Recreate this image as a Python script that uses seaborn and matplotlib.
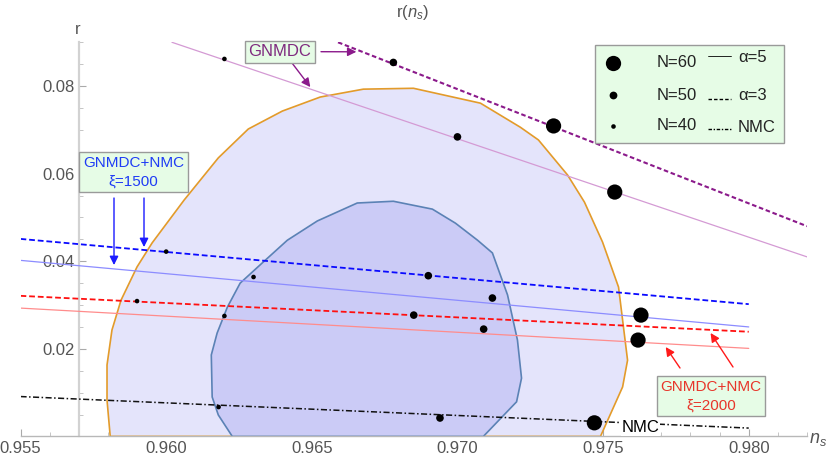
import matplotlib
matplotlib.use("Agg")
import matplotlib.pyplot as plt
import seaborn as sns
import pandas as pd
from matplotlib.patches import Rectangle
from matplotlib.lines import Line2D

# ---------------- data ----------------
# Planck-like confidence contours (outer / inner)
outer_ns = [0.95808, 0.95797, 0.95797, 0.95814, 0.95845, 0.95900, 0.95952, 0.96062,
            0.96179, 0.96282, 0.96399, 0.96529, 0.96677, 0.96849, 0.97079, 0.97216,
            0.97278, 0.97378, 0.97436, 0.97498, 0.97553, 0.97584, 0.97567, 0.97491]
outer_r = [0.0000, 0.0083, 0.0163, 0.0243, 0.0311, 0.0387, 0.0442, 0.0540,
           0.0636, 0.0702, 0.0743, 0.0775, 0.0793, 0.0795, 0.0761, 0.0706,
           0.0677, 0.0597, 0.0535, 0.0444, 0.0341, 0.0174, 0.0113, 0.0000]
inner_ns = [0.96227, 0.96179, 0.96158, 0.96155, 0.96175, 0.96210, 0.96254, 0.96333,
            0.96416, 0.96519, 0.96656, 0.96780, 0.96914, 0.96993, 0.97069, 0.97120,
            0.97172, 0.97206, 0.97220, 0.97203, 0.97089]
inner_r = [0.0000, 0.0049, 0.0090, 0.0186, 0.0236, 0.0295, 0.0350, 0.0398,
           0.0448, 0.0492, 0.0533, 0.0537, 0.0519, 0.0487, 0.0448, 0.0419,
           0.0323, 0.0220, 0.0133, 0.0079, 0.0000]

# model curves r(ns)
gnmdc_a5_ns = [0.9602, 0.9820]
gnmdc_a5_r = [0.0900, 0.0410]
gnmdc_a3_ns = [0.9659, 0.9820]
gnmdc_a3_r = [0.0900, 0.0480]
xi_ns = [0.955, 0.980]
xi1500_a3_r = [0.0451, 0.0302]
xi1500_a5_r = [0.0402, 0.0250]
xi2000_a3_r = [0.0321, 0.0239]
xi2000_a5_r = [0.0293, 0.0201]
nmc_r = [0.0091, 0.0019]

# e-fold points
pt_ns = [0.9620, 0.9600, 0.9630, 0.9590, 0.9620, 0.9618,
         0.9678, 0.9700, 0.9690, 0.9712, 0.9685, 0.9709, 0.9694,
         0.9733, 0.9754, 0.9763, 0.9762, 0.9747]
pt_r = [0.0862, 0.0422, 0.0364, 0.0309, 0.0275, 0.0067,
        0.0854, 0.0684, 0.0367, 0.0316, 0.0277, 0.0245, 0.0042,
        0.0709, 0.0558, 0.0277, 0.0220, 0.0031]
pt_N = [40, 40, 40, 40, 40, 40,
        50, 50, 50, 50, 50, 50, 50,
        60, 60, 60, 60, 60]

x_ticks = [0.955, 0.960, 0.965, 0.970, 0.975, 0.980]
x_tick_labels = ["0.955", "0.960", "0.965", "0.970", "0.975", "0.980"]
y_ticks = [0.02, 0.04, 0.06, 0.08]
y_tick_labels = ["0.02", "0.04", "0.06", "0.08"]

# ---------------- style ----------------
sns.set_theme(style="white")
plt.rcParams["font.family"] = ["Liberation Sans", "DejaVu Sans"]
plt.rcParams["mathtext.fontset"] = "custom"
plt.rcParams["mathtext.rm"] = "Liberation Sans"
plt.rcParams["mathtext.it"] = "Liberation Sans:italic"

W, H = 830, 458
fig = plt.figure(figsize=(W / 100, H / 100), dpi=100)
ax = fig.add_axes([20.5 / W, (H - 436.4) / H, 786.5 / W, 394.1 / H])
ax.set_facecolor("none")

def fx(px):
    return px / W

def fy(py):
    return 1 - py / H

# contours
ax.fill(outer_ns, outer_r, facecolor="#e4e4fb", edgecolor="#e39b2a", lw=1.2, zorder=1)
ax.fill(inner_ns, inner_r, facecolor="#cbcbf6", edgecolor="#5b82b5", lw=1.2, zorder=2)

# lines
dash = (0, (3.2, 1.6))
dashdot = (0, (4, 1.6, 1, 1.6))
sns.lineplot(x=gnmdc_a5_ns, y=gnmdc_a5_r, color="#d49ad4", lw=0.9, ax=ax, zorder=3)
sns.lineplot(x=gnmdc_a3_ns, y=gnmdc_a3_r, color="#8b1a8b", lw=1.5, linestyle=(0, (2.2, 1.3)), ax=ax, zorder=3)
sns.lineplot(x=xi_ns, y=xi1500_a5_r, color="#8c8cff", lw=0.9, ax=ax, zorder=3)
sns.lineplot(x=xi_ns, y=xi1500_a3_r, color="#0a0aff", lw=1.3, linestyle=dash, ax=ax, zorder=3)
sns.lineplot(x=xi_ns, y=xi2000_a5_r, color="#ff8c8c", lw=0.9, ax=ax, zorder=3)
sns.lineplot(x=xi_ns, y=xi2000_a3_r, color="#ff1010", lw=1.3, linestyle=dash, ax=ax, zorder=3)
sns.lineplot(x=xi_ns, y=nmc_r, color="#111111", lw=1.1, linestyle=dashdot, ax=ax, zorder=3)

# points
pts = pd.DataFrame({"ns": pt_ns, "r": pt_r, "N": pt_N})
sns.scatterplot(data=pts, x="ns", y="r", size="N", sizes={40: 11, 50: 30, 60: 120},
                color="black", edgecolor="none", legend=False, ax=ax, zorder=5)

# axes
ax.set_xlim(0.955, 0.982)
ax.set_ylim(0, 0.090)
ax.set_xlabel("")
ax.set_ylabel("")
for s in ["top", "right"]:
    ax.spines[s].set_visible(False)
ax.spines["left"].set_position(("data", 0.957))
ax.spines["left"].set_color("#d2d2d2")
ax.spines["left"].set_linewidth(1.6)
ax.spines["bottom"].set_color("#b8b8b8")
ax.spines["bottom"].set_linewidth(1.0)
ax.set_xticks(x_ticks)
ax.set_xticklabels(x_tick_labels)
ax.set_yticks(y_ticks)
ax.set_yticklabels(y_tick_labels)
ax.set_xticks([0.955 + 0.001 * i for i in range(28)], minor=True)
ax.set_yticks([0.005 * i for i in range(19)], minor=True)
ax.tick_params(axis="both", which="major", direction="in", length=5, width=0.8,
               color="#aaaaaa", labelsize=12, labelcolor="#555555", pad=3)
ax.tick_params(axis="both", which="minor", direction="in", length=3, width=0.6, color="#bbbbbb")
ax.tick_params(axis="y", which="both", left=True)
ax.tick_params(axis="x", which="both", bottom=True)

# titles / axis labels
fig.text(fx(413), fy(13), r"r($n_s$)", ha="center", va="center", fontsize=12, color="#555555")
fig.text(fx(78), fy(30), "r", ha="center", va="center", fontsize=12, color="#555555")
fig.text(fx(818), fy(439), r"$n_s$", ha="center", va="center", fontsize=13, color="#555555")

box_fc = "#e6fce6"
box_ec = "#9a9a9a"

# GNMDC annotation
fig.text(fx(280), fy(52), "GNMDC", ha="center", va="center", fontsize=12, color="#7f2a7f",
         bbox=dict(boxstyle="square,pad=0.2", fc=box_fc, ec=box_ec, lw=1))
arrow_kw = dict(arrowstyle="-|>", lw=1.0, mutation_scale=13, shrinkA=0, shrinkB=0)
ax.annotate("", xy=(0.96653, 0.08783), xytext=(fx(321), fy(51.7)), textcoords="figure fraction",
            arrowprops=dict(color="#8b1a8b", **arrow_kw), zorder=6)
ax.annotate("", xy=(0.96495, 0.07977), xytext=(fx(292), fy(63)), textcoords="figure fraction",
            arrowprops=dict(color="#8b1a8b", **arrow_kw), zorder=6)

# GNMDC+NMC xi=1500
fig.text(fx(133.5), fy(172), "GNMDC+NMC\nξ=1500", ha="center", va="center", fontsize=11,
         color="#1f3cf5", linespacing=1.45,
         bbox=dict(boxstyle="square,pad=0.25", fc=box_fc, ec=box_ec, lw=1))
ax.annotate("", xy=(0.95821, 0.03913), xytext=(fx(114), fy(198)), textcoords="figure fraction",
            arrowprops=dict(color="#1a1aff", **arrow_kw), zorder=6)
ax.annotate("", xy=(0.95924, 0.04324), xytext=(fx(144), fy(198)), textcoords="figure fraction",
            arrowprops=dict(color="#1a1aff", **arrow_kw), zorder=6)

# GNMDC+NMC xi=2000
fig.text(fx(711), fy(396), "GNMDC+NMC\nξ=2000", ha="center", va="center", fontsize=11,
         color="#e8352a", linespacing=1.45,
         bbox=dict(boxstyle="square,pad=0.25", fc=box_fc, ec=box_ec, lw=1))
ax.annotate("", xy=(0.97715, 0.02041), xytext=(fx(680), fy(368)), textcoords="figure fraction",
            arrowprops=dict(color="#ff1a1a", **arrow_kw), zorder=6)
ax.annotate("", xy=(0.97869, 0.02361), xytext=(fx(733), fy(367)), textcoords="figure fraction",
            arrowprops=dict(color="#ff1a1a", **arrow_kw), zorder=6)

# NMC label on line
ax.text(0.97564, 0.0021, "NMC", ha="left", va="center", fontsize=12, color="black", zorder=6,
        bbox=dict(boxstyle="square,pad=0.05", fc="white", ec="none"))

# legend (manual)
fig.add_artist(Rectangle((fx(595), fy(143)), fx(784) - fx(595), fy(45) - fy(143),
                         transform=fig.transFigure, fc=box_fc, ec=box_ec, lw=1, zorder=10))
for py, ms, lab in [(63, 11, "N=60"), (95, 5.6, "N=50"), (126, 3.3, "N=40")]:
    fig.add_artist(Line2D([fx(613)], [fy(py)], marker="o", ms=ms, color="black",
                          mec="none", transform=fig.transFigure, zorder=11))
    fig.text(fx(657), fy(py), lab, ha="left", va="center", fontsize=12, color="#222222", zorder=11)
for py_line, py_txt, ls, lw, lab in [(56, 57, "-", 0.6, "α=5"),
                                     (99, 95, (0, (2.5, 1.5)), 1.0, "α=3"),
                                     (129, 127, (0, (2.5, 1.2, 1, 1.2)), 1.0, "NMC")]:
    fig.add_artist(Line2D([fx(708), fx(731)], [fy(py_line), fy(py_line)], color="black",
                          lw=lw, linestyle=ls, transform=fig.transFigure, zorder=11))
    fig.text(fx(738), fy(py_txt), lab, ha="left", va="center", fontsize=12, color="#222222", zorder=11)

fig.savefig("out.png", dpi=100)
